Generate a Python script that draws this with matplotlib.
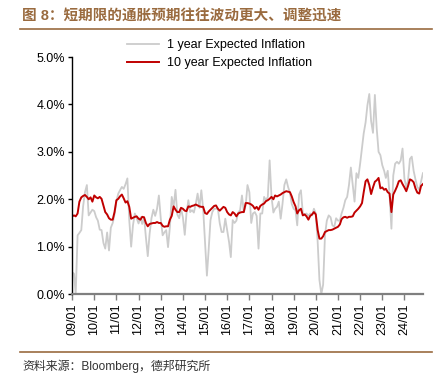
import numpy as np
import pandas as pd
import matplotlib
matplotlib.use("Agg")
import matplotlib.pyplot as plt
from matplotlib.lines import Line2D

plt.rcParams['font.family'] = ['Liberation Sans', 'Noto Sans CJK SC', 'DejaVu Sans']

# monthly data, 2009-01 .. 2024-11
one_year = [
    0.46, 0.43, 0.00, 1.24, 1.29, 1.35, 1.85, 2.15, 2.30, 1.66, 1.72, 1.78,  # 2009
    1.75, 1.62, 1.55, 1.36, 1.35, 1.08, 0.96, 1.30, 0.92, 1.40, 1.50, 1.68,  # 2010
    1.96, 2.12, 2.19, 2.26, 2.22, 2.32, 2.44, 1.56, 1.00, 1.45, 1.70, 1.60,  # 2011
    1.49, 1.62, 1.48, 1.62, 1.20, 0.80, 1.27, 1.60, 1.78, 1.65, 1.80, 2.08,  # 2012
    1.60, 1.24, 1.30, 1.35, 0.99, 1.42, 2.05, 1.84, 2.20, 1.68, 1.60, 1.80,  # 2013
    1.62, 1.25, 1.70, 1.98, 1.73, 1.77, 1.72, 1.90, 2.12, 1.82, 2.19, 1.80,  # 2014
    1.10, 0.39, 0.92, 1.56, 1.73, 1.80, 1.80, 1.80, 1.49, 1.31, 1.31, 1.59,  # 2015
    1.35, 1.10, 0.78, 1.56, 1.50, 1.55, 1.72, 1.77, 2.08, 1.73, 1.87, 2.30,  # 2016
    2.15, 1.50, 1.70, 1.73, 1.65, 0.96, 1.70, 1.70, 2.05, 1.98, 2.05, 2.82,  # 2017
    2.05, 1.72, 1.80, 1.84, 1.95, 1.59, 1.90, 2.30, 2.42, 2.26, 2.14, 1.90,  # 2018
    1.80, 1.77, 1.45, 2.10, 2.19, 1.70, 1.68, 1.70, 1.65, 1.70, 1.66, 1.80,  # 2019
    1.70, 1.10, 0.30, 0.00, 0.20, 1.25, 1.55, 1.66, 1.62, 1.45, 1.42, 1.60,  # 2020
    1.55, 1.55, 1.70, 1.82, 1.98, 2.05, 2.30, 2.67, 2.30, 1.95, 2.55, 2.45,  # 2021
    2.75, 3.08, 3.39, 3.62, 3.98, 4.22, 3.65, 3.40, 4.20, 3.50, 3.00, 2.93,  # 2022
    2.72, 2.60, 2.45, 2.60, 2.10, 1.38, 2.50, 2.75, 2.79, 2.75, 2.82, 3.07,  # 2023
    2.44, 2.25, 2.40, 2.85, 2.90, 2.60, 2.42, 2.26, 2.20, 2.37, 2.55,        # 2024
]
ten_year = [
    1.64, 1.66, 1.64, 1.70, 1.95, 2.04, 2.07, 2.09, 2.05, 2.00, 2.04, 1.95,
    2.08, 2.04, 2.02, 2.05, 2.01, 1.87, 1.73, 1.68, 1.60, 1.57, 1.57, 1.73,
    1.98, 2.01, 2.06, 2.10, 2.02, 1.93, 1.96, 1.84, 1.59, 1.61, 1.63, 1.64,
    1.59, 1.57, 1.63, 1.62, 1.50, 1.43, 1.48, 1.49, 1.50, 1.50, 1.52, 1.50,
    1.50, 1.44, 1.42, 1.43, 1.43, 1.57, 1.65, 1.85, 1.78, 1.73, 1.73, 1.82,
    1.80, 1.76, 1.75, 1.85, 1.84, 1.86, 1.87, 1.89, 1.87, 1.85, 1.84, 1.84,
    1.71, 1.69, 1.74, 1.78, 1.82, 1.86, 1.87, 1.80, 1.76, 1.80, 1.84, 1.82,
    1.73, 1.68, 1.66, 1.73, 1.70, 1.64, 1.70, 1.72, 1.73, 1.73, 1.92, 1.92,
    1.91, 1.89, 1.86, 1.80, 1.84, 1.78, 1.86, 1.89, 1.91, 1.96, 1.98, 2.01,
    2.05, 2.00, 2.08, 2.06, 2.08, 2.10, 2.13, 2.15, 2.17, 2.16, 2.15, 2.06,
    1.94, 1.85, 1.70, 1.77, 1.80, 1.66, 1.68, 1.64, 1.57, 1.65, 1.68, 1.73,
    1.68, 1.35, 1.17, 1.17, 1.22, 1.31, 1.33, 1.35, 1.35, 1.36, 1.38, 1.40,
    1.42, 1.47, 1.58, 1.62, 1.63, 1.61, 1.63, 1.63, 1.64, 1.72, 1.76, 1.80,
    1.85, 1.92, 2.15, 2.38, 2.42, 2.30, 2.11, 2.25, 2.37, 2.40, 2.45, 2.23,
    2.25, 2.20, 2.22, 2.15, 2.12, 1.73, 2.10, 2.18, 2.27, 2.38, 2.40, 2.32,
    2.25, 2.17, 2.28, 2.42, 2.40, 2.36, 2.23, 2.14, 2.12, 2.28, 2.32,
]
dates = pd.date_range('2009-01-01', periods=len(one_year), freq='MS')
tick_years = list(range(2009, 2025))

title = '图 8：短期限的通胀预期往往波动更大、调整迅速'
source = '资料来源：Bloomberg，德邦研究所'
brown = '#9a6b3f'

fig = plt.figure(figsize=(4.48, 3.8), dpi=100)
ax = fig.add_axes([0.161, 0.226, 0.783, 0.624])

ax.plot(dates, one_year, color='#cccccc', lw=1.3)
ax.plot(dates, ten_year, color='#c00000', lw=1.4)

ax.set_ylim(0, 5)
ax.set_yticks(np.arange(0, 5.01, 1))
ax.set_yticklabels(['%.1f%%' % v for v in np.arange(0, 5.01, 1)], fontsize=9)
ax.set_xlim(dates[0], dates[-1])
ticks = [pd.Timestamp(f'{y}-01-01') for y in tick_years]
ax.set_xticks(ticks)
ax.set_xticklabels([t.strftime('%y/%m') for t in ticks], rotation=90, fontsize=9)

for s in ['top', 'right']:
    ax.spines[s].set_visible(False)
ax.spines['left'].set_color('black')
ax.spines['left'].set_linewidth(1.0)
ax.spines['bottom'].set_color('#7f7f7f')
ax.spines['bottom'].set_linewidth(1.6)
ax.tick_params(axis='y', length=3, width=1, direction='out', pad=2)
ax.tick_params(axis='x', length=4, width=1, color='#7f7f7f', direction='out', pad=3)

handles = [Line2D([], [], color='#cccccc', lw=1.3),
           Line2D([], [], color='#c00000', lw=1.4)]
fig.legend(handles, ['1 year Expected Inflation', '10 year Expected Inflation'],
           loc='center', bbox_to_anchor=(0.49, 0.857), frameon=False, fontsize=9,
           handlelength=2.6, labelspacing=0.5, handletextpad=0.6)

fig.text(0.05, 0.958, title, fontsize=10.5, color=brown, fontweight='bold',
         ha='left', va='center')
fig.add_artist(Line2D([0.045, 0.965], [0.923, 0.923], color=brown, lw=1.2))
fig.add_artist(Line2D([0.045, 0.965], [0.075, 0.075], color=brown, lw=1.2))
fig.text(0.05, 0.035, source, fontsize=8.6, color='#333333', ha='left', va='center')

fig.savefig('out.png', dpi=100)
